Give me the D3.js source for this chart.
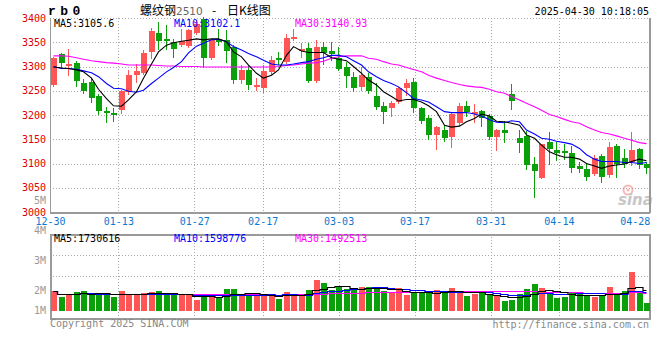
<!DOCTYPE html>
<html><head><meta charset="utf-8">
<script src="https://cdn.jsdelivr.net/npm/d3@7"></script>
<style>body{margin:0;background:#fff}svg{display:block}</style>
</head><body><svg id="c" width="660" height="360"></svg>
<script>
const dates = ["12-30","12-31","01-02","01-03","01-06","01-07","01-08","01-09","01-10","01-13","01-14","01-15","01-16","01-17","01-20","01-21","01-22","01-23","01-24","01-27","02-05","02-06","02-07","02-10","02-11","02-12","02-13","02-14","02-17","02-18","02-19","02-20","02-21","02-24","02-25","02-26","02-27","02-28","03-03","03-04","03-05","03-06","03-07","03-10","03-11","03-12","03-13","03-14","03-17","03-18","03-19","03-20","03-21","03-24","03-25","03-26","03-27","03-28","03-31","04-01","04-02","04-03","04-07","04-08","04-09","04-10","04-11","04-14","04-15","04-16","04-17","04-18","04-21","04-22","04-23","04-24","04-25","04-28","04-29","04-30"];
const open  = [3262,3325,3303,3307,3265,3269,3239,3208,3205,3210,3248,3282,3287,3329,3370,3356,3351,3344,3343,3369,3398,3318,3355,3355,3341,3272,3293,3258,3256,3288,3318,3310,3357,3335,3339,3271,3341,3332,3318,3300,3278,3258,3278,3239,3219,3214,3226,3256,3269,3214,3194,3159,3170,3155,3183,3219,3203,3208,3197,3155,3169,3243,3153,3157,3099,3071,3144,3128,3126,3121,3095,3088,3078,3115,3076,3136,3111,3104,3129,3098];
const high  = [3320,3328,3336,3312,3275,3277,3243,3216,3214,3252,3293,3306,3333,3379,3392,3386,3356,3377,3378,3396,3402,3356,3377,3375,3345,3303,3303,3276,3303,3322,3329,3366,3377,3348,3348,3355,3351,3351,3340,3310,3289,3298,3286,3265,3227,3229,3258,3274,3276,3217,3200,3177,3179,3205,3225,3229,3223,3210,3202,3172,3188,3264,3170,3168,3114,3141,3164,3145,3140,3136,3104,3102,3118,3120,3144,3140,3129,3164,3132,3104];
const low   = [3260,3300,3282,3260,3246,3226,3202,3186,3188,3205,3243,3269,3284,3317,3337,3337,3319,3342,3340,3366,3300,3316,3344,3310,3265,3265,3254,3251,3247,3284,3305,3307,3355,3320,3269,3269,3305,3313,3293,3258,3250,3251,3245,3212,3184,3198,3224,3241,3207,3183,3151,3130,3146,3133,3179,3198,3186,3177,3150,3128,3145,3212,3124,3088,3030,3070,3100,3107,3109,3083,3082,3067,3076,3062,3073,3073,3092,3097,3090,3081];
const close = [3318,3308,3305,3270,3249,3236,3209,3206,3199,3250,3282,3291,3328,3374,3353,3354,3337,3353,3375,3388,3318,3355,3352,3331,3272,3293,3262,3262,3291,3313,3315,3358,3361,3337,3271,3341,3327,3325,3295,3281,3256,3282,3250,3217,3206,3225,3256,3267,3214,3188,3159,3175,3153,3202,3219,3207,3207,3193,3155,3169,3163,3229,3143,3097,3085,3140,3129,3122,3123,3090,3088,3073,3111,3072,3133,3100,3100,3128,3097,3090];
const volume = [1670000,1140000,1420000,1580000,1670000,1330000,1330000,1500000,1140000,1670000,1330000,1330000,1500000,1580000,1670000,1330000,1330000,1330000,1330000,940000,1330000,1140000,1140000,1830000,1830000,1330000,1250000,1250000,1420000,1250000,1030000,1580000,1250000,1420000,1750000,2580000,2360000,1750000,2000000,1830000,1750000,2000000,2000000,2000000,1670000,1580000,1920000,1330000,1580000,1500000,1500000,1750000,1500000,1920000,1670000,1250000,1420000,1500000,1420000,1250000,830000,920000,1420000,1830000,2250000,1920000,1420000,1080000,1170000,1500000,1500000,1250000,1170000,1330000,2000000,1500000,1670000,3280000,1670000,670000];
const ma5  = [3299,3297,3296,3293,3289,3276,3253,3234,3219,3218,3231,3248,3276,3305,3330,3344,3349,3352,3354,3357,3355,3357,3357,3351,3330,3320,3303,3286,3276,3282,3293,3323,3341,3332,3329,3329,3329,3318,3315,3312,3300,3286,3272,3262,3248,3238,3229,3232,3232,3227,3219,3207,3179,3175,3177,3186,3193,3202,3198,3187,3186,3183,3179,3159,3152,3138,3124,3118,3113,3113,3109,3100,3095,3090,3095,3097,3099,3104,3109,3105.6];
const ma10 = [3300,3296,3296,3294,3291,3287,3279,3265,3255,3254,3249,3247,3251,3265,3276,3289,3298,3310,3328,3342,3348,3355,3356,3351,3341,3334,3327,3320,3313,3305,3303,3303,3305,3308,3310,3315,3318,3323,3323,3320,3312,3303,3289,3279,3271,3265,3258,3246,3234,3231,3227,3217,3207,3205,3205,3205,3202,3198,3190,3185,3184,3188,3186,3169,3161,3152,3150,3146,3143,3140,3131,3118,3109,3104,3104,3104,3102,3102,3100,3102.1];
const ma30 = [3322,3322,3321,3318,3315,3312,3310,3308,3307,3305,3303,3303,3303,3303,3302,3301,3301,3300,3300,3300,3299,3299,3299,3299,3299,3299,3299,3299,3299,3299,3300,3302,3303,3305,3307,3308,3311,3317,3320,3322,3322,3322,3317,3315,3310,3305,3303,3298,3294,3289,3282,3276,3271,3267,3263,3260,3258,3257,3253,3248,3245,3238,3231,3224,3217,3210,3201,3197,3191,3186,3183,3176,3169,3164,3161,3157,3152,3148,3143,3140.93];
const priceTicks = [3000,3050,3100,3150,3200,3250,3300,3350,3400];
const dateTickLabels = ["12-30","01-13","01-27","02-17","03-03","03-17","03-31","04-14","04-28"];
const volTickLabels = ["5M","4M","3M","2M","1M"];
const volTickValues = [5,4,3,2,1];
const priceLegend = ["MA5:3105.6","MA10:3102.1","MA30:3140.93"];
const volLegend = ["MA5:1730616","MA10:1598776","MA30:1492513"];

const svg = d3.select("#c");
const mono = "'DejaVu Sans Mono', monospace";
const RED = "#ff5555", GREEN = "#0aa00a", GRID = "#a8a8a8", FRAME = "#9a9a9a";
const L = 50, R = 649, PT = 18, PB = 212, VT = 234, VB = 318;
const n = dates.length, idx = d3.range(n);

const xb = d3.scaleBand().domain(idx).range([49.3, 650]).paddingInner(0.2).paddingOuter(0.1);
const xg = d3.scalePoint().domain(idx).range([50, 650]);
const xc = i => Math.round(xb(i) + xb.bandwidth() / 2);
const y = d3.scaleLinear().domain([3000, 3400]).range([PB, PT]);
const yv = d3.scaleLinear().domain([0, 4e6]).range([311, 263]);
const yvLab = d3.scaleLinear().domain([1, 2, 5]).range([310.3, 290.3, 200.7]);

// grids
const gridG = svg.append("g").attr("stroke", GRID).attr("stroke-dasharray", "1,2").attr("shape-rendering", "crispEdges");
priceTicks.filter(t => t > 3000).forEach(t => gridG.append("line").attr("x1", L).attr("x2", R).attr("y1", Math.round(y(t)) + 0.5).attr("y2", Math.round(y(t)) + 0.5));
const gridIdx = dateTickLabels.slice(1, -1).map(d => dates.indexOf(d));
gridIdx.forEach(i => {
  const gx = Math.round(xg(i)) + 0.5;
  gridG.append("line").attr("x1", gx).attr("x2", gx).attr("y1", PT).attr("y2", PB);
  gridG.append("line").attr("x1", gx).attr("x2", gx).attr("y1", VT).attr("y2", VB);
});
[255, 276].forEach(v => gridG.append("line").attr("x1", L).attr("x2", R).attr("y1", v + 0.5).attr("y2", v + 0.5));

// frames
const fr = svg.append("g").attr("stroke", FRAME).attr("fill", "none").attr("shape-rendering", "crispEdges");
fr.append("line").attr("x1", L + 0.5).attr("x2", L + 0.5).attr("y1", PT).attr("y2", PB + 1);
fr.append("line").attr("x1", L).attr("x2", R + 1).attr("y1", PB + 0.5).attr("y2", PB + 0.5).attr("stroke-width", 2);
fr.append("line").attr("x1", R + 0.5).attr("x2", R + 0.5).attr("y1", PT).attr("y2", PB + 1).attr("stroke-width", 2);
fr.append("rect").attr("x", L + 0.5).attr("y", VT + 0.5).attr("width", R - L).attr("height", VB - VT).attr("stroke-width", 2);

// candles
const cg = svg.append("g").attr("shape-rendering", "crispEdges");
idx.forEach(i => {
  const up = close[i] >= open[i];
  const col = up ? RED : GREEN;
  const cx = xc(i);
  cg.append("line").attr("x1", cx + 0.5).attr("x2", cx + 0.5)
    .attr("y1", Math.round(y(high[i]))).attr("y2", Math.round(y(low[i])) + 1).attr("stroke", col);
  const top = Math.round(y(Math.max(open[i], close[i])));
  const bot = Math.round(y(Math.min(open[i], close[i])));
  cg.append("rect").attr("x", cx - 2).attr("y", top).attr("width", 6).attr("height", Math.max(2, bot - top)).attr("fill", col);
});

// MA lines
const line = d3.line().x((d, i) => xc(i) + 0.5).y(d => y(d));
[[ma30, "#ff00ff"], [ma10, "#0000ff"], [ma5, "#000"]].forEach(([arr, c]) =>
  svg.append("path").attr("d", line(arr)).attr("fill", "none").attr("stroke", c).attr("stroke-width", 1.1));

// volume bars
const vg = svg.append("g").attr("shape-rendering", "crispEdges");
idx.forEach(i => {
  const col = close[i] >= open[i] ? RED : GREEN;
  const t = Math.round(yv(volume[i]));
  vg.append("rect").attr("x", xc(i) - 2).attr("y", t).attr("width", 6).attr("height", Math.round(yv(0)) - t).attr("fill", col);
});
// volume MA (moving means of the volume array)
const mov = k => idx.map(i => d3.mean(volume.slice(Math.max(0, i - k + 1), i + 1)));
const vline = d3.line().x((d, i) => xc(i) + 0.5).y(d => Math.round(yv(d)) + 0.5).curve(d3.curveStep);
[[mov(30), "#ff00ff"], [mov(10), "#0000ff"], [mov(5), "#000"]].forEach(([arr, c]) =>
  svg.append("path").attr("d", vline(arr)).attr("fill", "none").attr("stroke", c).attr("stroke-width", 1.2));

// axes
const yAx = svg.append("g").attr("transform", `translate(${L},0)`)
  .call(d3.axisLeft(y).tickValues(priceTicks).tickSize(0).tickPadding(4).tickFormat(d3.format("d")));
yAx.select(".domain").remove();
yAx.selectAll("text").attr("fill", "#e00000").attr("font-family", mono).attr("font-size", 10);

const xAx = svg.append("g").attr("transform", "translate(0,221)")
  .call(d3.axisBottom(xg).tickValues(dateTickLabels.map(d => dates.indexOf(d))).tickSize(0).tickFormat(i => dates[i]));
xAx.select(".domain").remove();
xAx.selectAll("text").attr("y", 0).attr("dy", "0.35em").attr("fill", "#0a78d2").attr("font-family", mono).attr("font-size", 10);

const vAx = svg.append("g").attr("transform", `translate(${L},0)`)
  .call(d3.axisLeft(yvLab).tickValues(volTickValues).tickSize(0).tickPadding(4).tickFormat((d, k) => volTickLabels[k]));
vAx.select(".domain").remove();
vAx.selectAll("text").attr("fill", "#999").attr("font-family", mono).attr("font-size", 10);

// legends
const legCols = ["#000", "#0000ff", "#ff00ff"], legX = [54, 174, 295];
priceLegend.forEach((t, k) => svg.append("text").attr("x", legX[k]).attr("y", 27).attr("fill", legCols[k]).attr("font-family", mono).attr("font-size", 10).text(t));
volLegend.forEach((t, k) => svg.append("text").attr("x", legX[k]).attr("y", 242).attr("fill", legCols[k]).attr("font-family", mono).attr("font-size", 10).text(t));

// header
svg.append("text").attr("x", 48).attr("y", 15).attr("font-family", "'Liberation Mono', monospace").attr("font-weight", "bold").attr("font-size", 13).attr("letter-spacing", 4.5).attr("fill", "#000").text("rb0");
const title = svg.append("text").attr("y", 15).attr("font-family", "'Noto Sans CJK SC', sans-serif").attr("font-size", 12).attr("fill", "#000");
title.append("tspan").attr("x", 140).text("螺纹钢");
title.append("tspan").attr("x", 176).attr("fill", "#666").attr("font-family", "'DejaVu Sans', sans-serif").attr("font-size", 10.5).text("2510");
title.append("tspan").attr("x", 212).text("-");
title.append("tspan").attr("x", 227).text("日K线图");
svg.append("text").attr("x", 649).attr("y", 15).attr("text-anchor", "end").attr("font-family", mono).attr("font-size", 10).attr("fill", "#000").text("2025-04-30 10:18:05");

// footer
svg.append("text").attr("x", 50).attr("y", 327).attr("font-family", mono).attr("font-size", 10).attr("fill", "#888").text("Copyright 2025 SINA.COM");
svg.append("text").attr("x", 649).attr("y", 328).attr("text-anchor", "end").attr("font-family", mono).attr("font-size", 10).attr("fill", "#888").text("http://finance.sina.com.cn");

// watermark
const wm = svg.append("g").attr("opacity", 0.55);
wm.append("circle").attr("cx", 628).attr("cy", 190).attr("r", 4.5).attr("fill", "none").attr("stroke", "#f08080").attr("stroke-width", 2);
wm.append("circle").attr("cx", 628).attr("cy", 190).attr("r", 1.5).attr("fill", "#f08080");
wm.append("text").attr("x", 618).attr("y", 205).attr("font-family", "'DejaVu Sans', sans-serif").attr("font-style", "italic").attr("font-weight", "bold").attr("font-size", 15).attr("fill", "#999").text("sina");
</script></body></html>
